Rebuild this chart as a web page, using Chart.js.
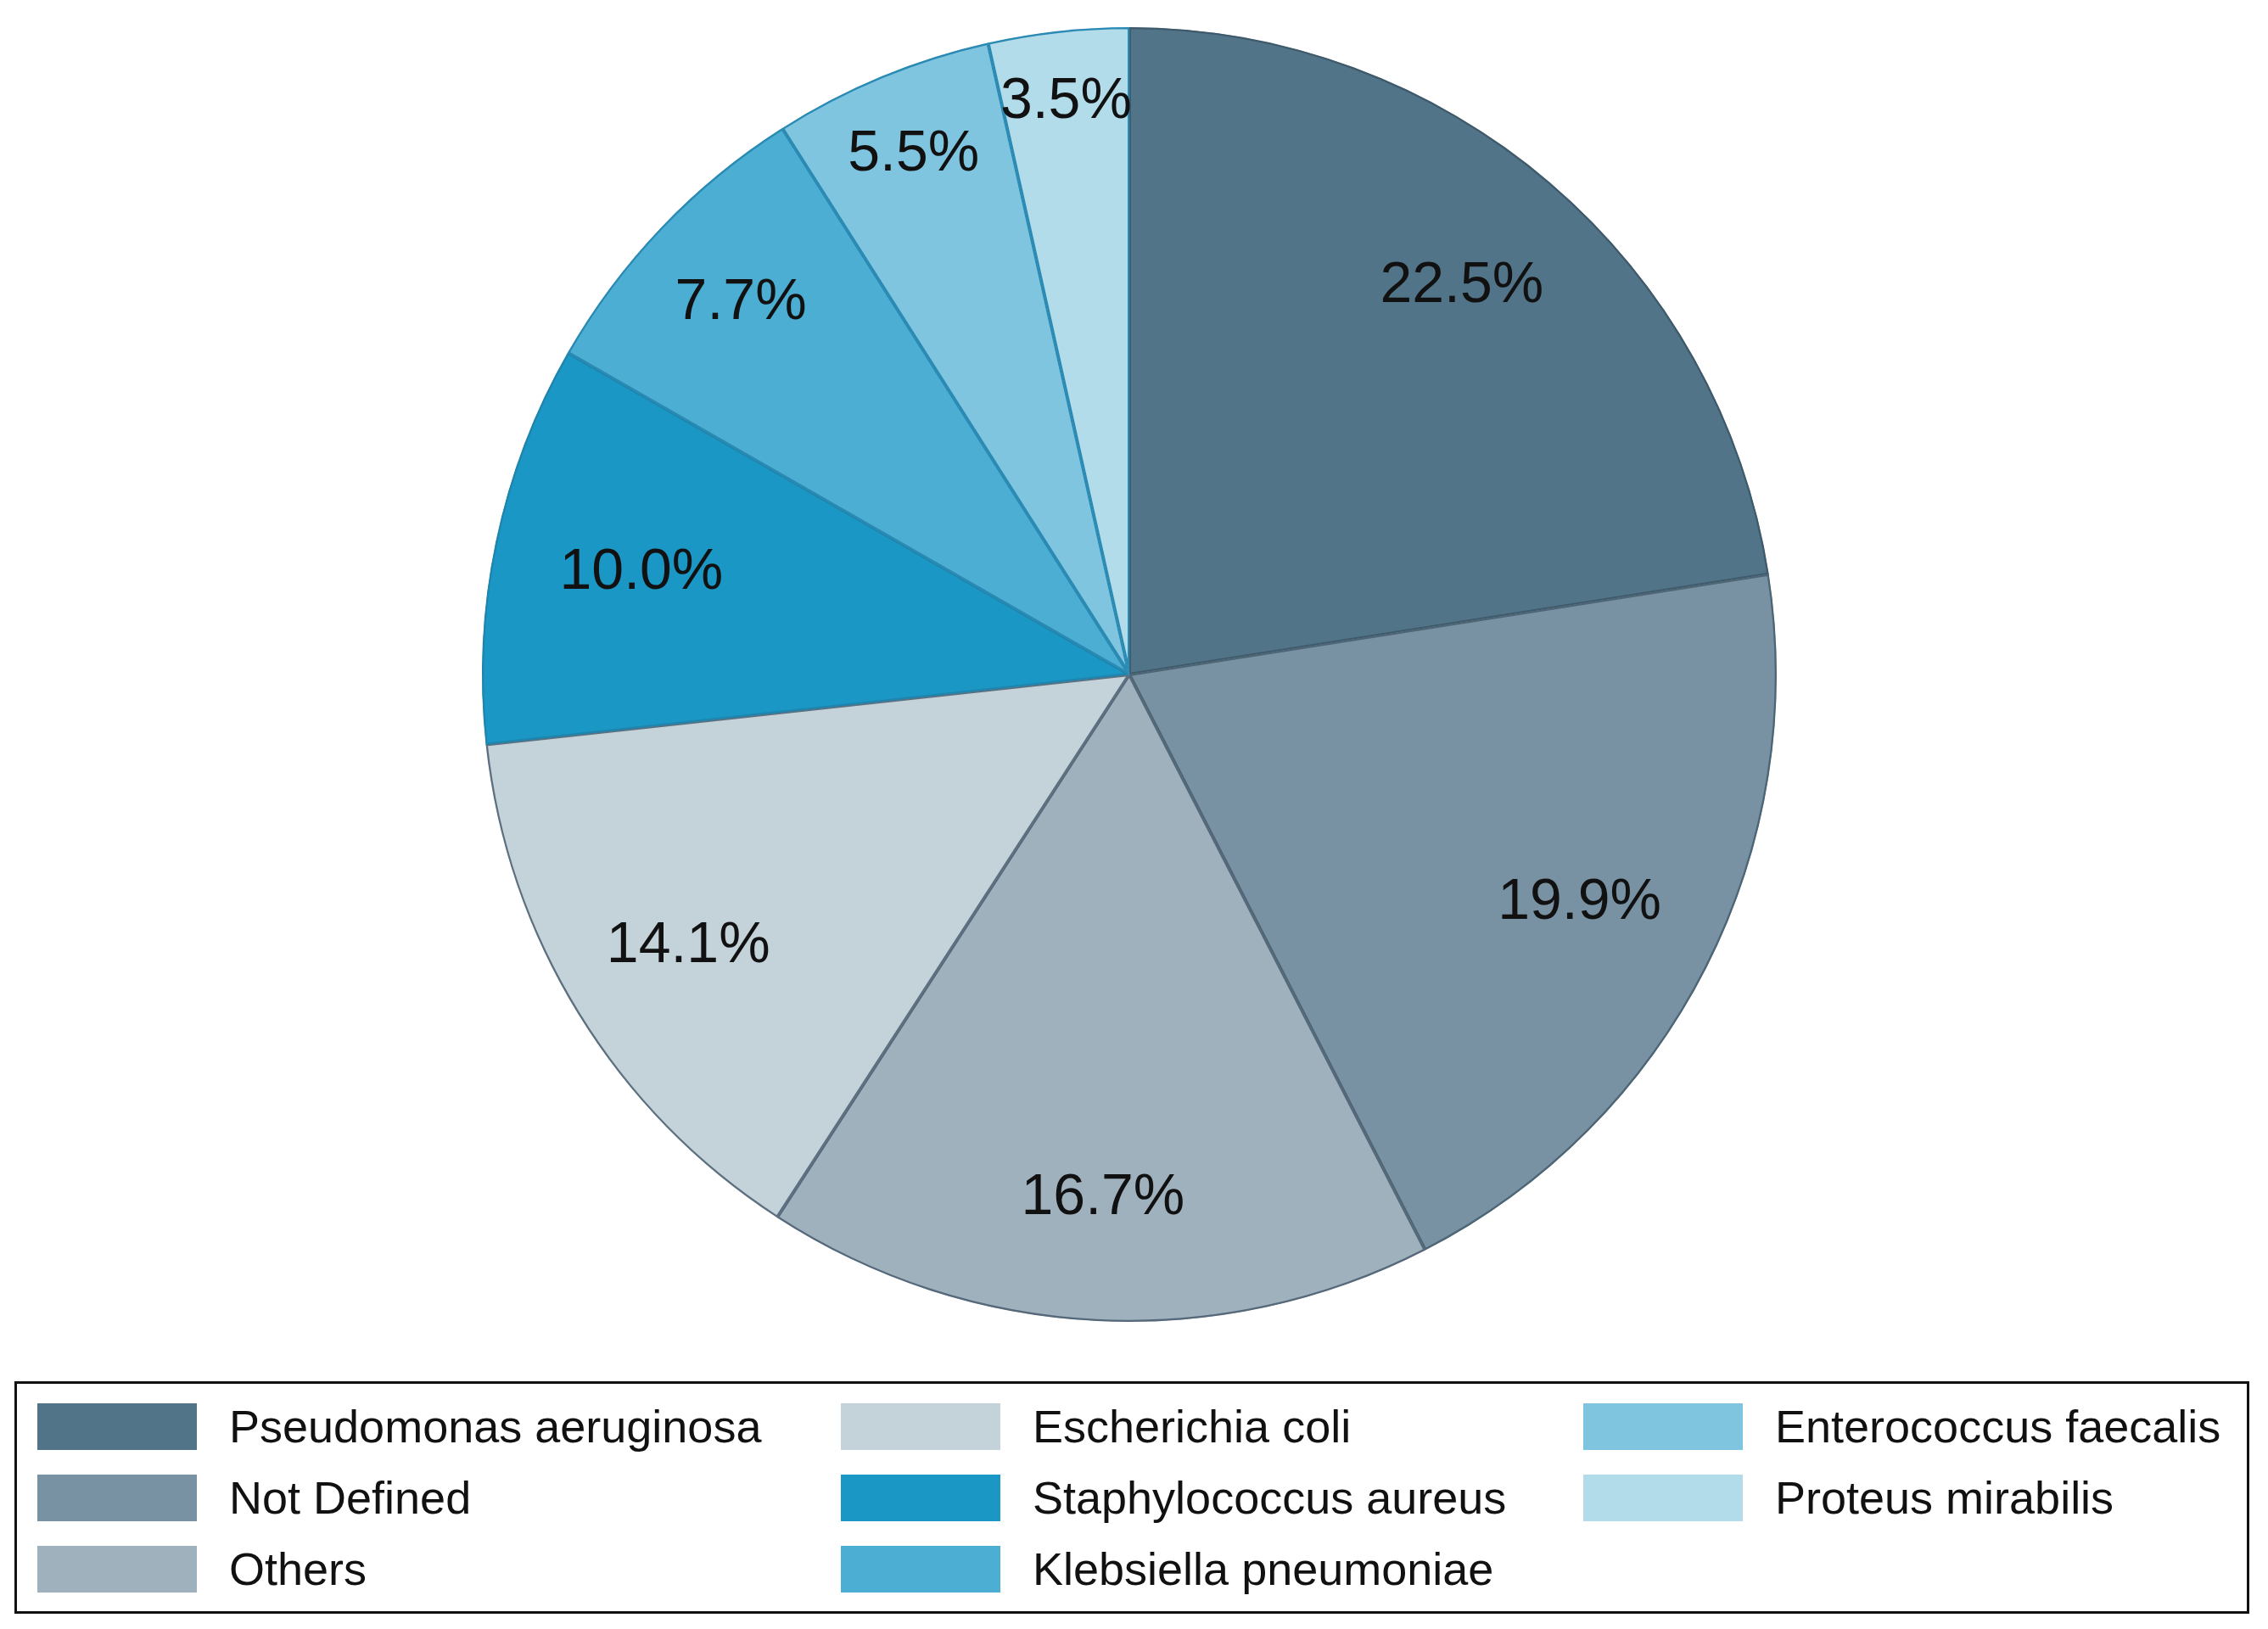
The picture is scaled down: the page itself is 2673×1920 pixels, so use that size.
<!DOCTYPE html>
<html>
<head>
<meta charset="utf-8">
<script src="https://cdn.jsdelivr.net/npm/chart.js@4/dist/chart.umd.min.js"></script>
<style>
  html, body { margin: 0; padding: 0; background: #fff; }
  body { width: 2673px; height: 1920px; position: relative; font-family: "Liberation Sans", Arial, sans-serif; }
  #wrap { position: absolute; left: 0; top: 0; width: 2662px; height: 1594px; }
  #legend {
    position: absolute; left: 17px; top: 1628px; width: 2634px; height: 274px;
    border: 3px solid #111; box-sizing: border-box;
    display: grid; grid-auto-flow: column;
    grid-template-rows: repeat(3, 84px);
    grid-template-columns: 947px 875px 1fr;
    padding: 8px 0 0 24px;
  }
  .item { display: flex; align-items: center; font-size: 54px; color: #111; white-space: nowrap; }
  .sw { width: 188px; height: 55px; margin-right: 38px; flex: none; }
</style>
</head>
<body>
<div id="wrap"><canvas id="c"></canvas></div>
<div id="legend"></div>
<script>
// pathogen shares (%), clockwise from 12 o'clock
const categories = ['Pseudomonas aeruginosa', 'Not Defined', 'Others', 'Escherichia coli',
  'Staphylococcus aureus', 'Klebsiella pneumoniae', 'Enterococcus faecalis', 'Proteus mirabilis'];
const shares = [22.5, 19.9, 16.7, 14.1, 10.0, 7.7, 5.5, 3.5];

const fills = ['#527489', '#7892a4', '#a0b1be', '#c4d2da', '#1b97c5', '#4caed3', '#80c5e0', '#b2dcea'];
const edges = ['#3f5a6b', '#4d6575', '#56697a', '#5d7080', '#1f85ad', '#2a8ab3', '#2a8ab3', '#2a8ab3'];

// small slices get their labels pushed further out, like the original
const labelRadius = [0.79, 0.78, 0.81, 0.80, 0.77, 0.83, 0.87, 0.89];

const pctLabels = {
  id: 'pctLabels',
  afterDatasetsDraw(chart) {
    const ctx = chart.ctx;
    const arcs = chart.getDatasetMeta(0).data;
    ctx.save();
    ctx.font = '68px "Liberation Sans", Arial, sans-serif';
    ctx.fillStyle = '#111';
    ctx.textAlign = 'center';
    ctx.textBaseline = 'middle';
    arcs.forEach((arc, i) => {
      const mid = (arc.startAngle + arc.endAngle) / 2;
      const r = arc.outerRadius * labelRadius[i];
      ctx.fillText(shares[i].toFixed(1) + '%', arc.x + Math.cos(mid) * r, arc.y + Math.sin(mid) * r);
    });
    ctx.restore();
  }
};

new Chart(document.getElementById('c'), {
  type: 'pie',
  data: {
    labels: categories,
    datasets: [{
      data: shares,
      backgroundColor: fills,
      borderColor: edges,
      borderWidth: 2,
      borderAlign: 'inner'
    }]
  },
  options: {
    responsive: true,
    maintainAspectRatio: false,
    animation: false,
    layout: { padding: { top: 32, bottom: 36 } },
    plugins: { legend: { display: false }, tooltip: { enabled: false } }
  },
  plugins: [pctLabels]
});

const legend = document.getElementById('legend');
categories.forEach((name, i) => {
  const it = document.createElement('div');
  it.className = 'item';
  it.innerHTML = '<span class="sw" style="background:' + fills[i] + '"></span>' + name;
  legend.appendChild(it);
});
</script>
</body>
</html>
